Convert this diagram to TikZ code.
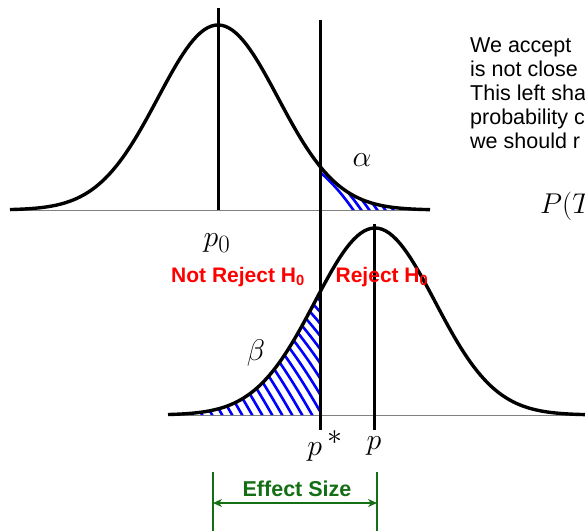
\documentclass[tikz,border=0pt]{standalone}
\usepackage{fontspec}
\setsansfont{Liberation Sans}
\usetikzlibrary{arrows.meta}
\definecolor{effgreen}{RGB}{20,110,20}
\newcommand\mlbl[2][1.2]{\scalebox{#1}{$#2$}}
\begin{document}
\begin{tikzpicture}[x=1pt,y=-1pt,
  curve/.style={line width=3.4pt,line join=round},
  axis/.style={gray,line width=0.8pt},
  bar/.style={line width=3pt},
  hatch/.style={blue,line width=2.6pt},
  region/.style={red,font=\sffamily\bfseries\fontsize{21}{21}\selectfont},
  lbl/.style={font=\fontsize{24.88}{25}\selectfont},
  note/.style={font=\sffamily\fontsize{21.5}{24}\selectfont,anchor=base west,inner sep=0pt}]
\useasboundingbox (0,0) rectangle (585,531);
\clip (0,0) rectangle (585,531);
% axes
\draw[axis] (10,210) -- (430,210);
\draw[axis] (168,415) -- (585,415);
% hatched tails
\begin{scope}
  \clip (320,210) -- plot[domain=320:430,samples=50] (\x,{210-185*exp(-((\x-218)/60)^2/2)}) -- (430,210) -- cycle;
  \foreach \i in {0,...,18} \draw[hatch] (290+\i*8,150) to[bend left=12] +(70,70);
\end{scope}
\begin{scope}
  \clip (168,415) -- plot[domain=168:320,samples=60] (\x,{415-187*exp(-((\x-375)/60)^2/2)}) -- (320,415) -- cycle;
  \foreach \i in {0,...,26} \draw[hatch] (80+\i*10,270) to[bend left=8] +(115,150);
\end{scope}
% curves
\draw[curve] plot[domain=10:430,samples=120] (\x,{210-185*exp(-((\x-218)/60)^2/2)});
\draw[curve] plot[domain=168:600,samples=120] (\x,{415-187*exp(-((\x-375)/60)^2/2)});
% vertical lines
\draw[bar] (218,8) -- (218,210);
\draw[bar] (320,20) -- (320,430);
\draw[bar] (374,224) -- (374,430);
% labels
\node[lbl] (pzero) at (217,243) {\mlbl{p_{\scriptstyle 0}}};
\node[lbl] (alpha) at (362,160) {\mlbl{\alpha}};
\node[lbl] (beta) at (256,353) {\mlbl{\beta}};
\node[lbl] (pstar) at (325,446) {\mlbl{p\,^{\textstyle *}}};
\node[lbl] (pval) at (374,446) {\mlbl{p}};
\node[region] (notrej) at (238,277) {Not Reject H\textsubscript{0}};
\node[region] (rej) at (382,277) {Reject H\textsubscript{0}};
% effect size
\coordinate (esl) at (213,503);
\coordinate (esr) at (377,503);
\draw[effgreen,line width=2.8pt] (213,472) -- (213,531);
\draw[effgreen,line width=2.8pt] (377,472) -- (377,531);
\draw[effgreen,line width=2.2pt,{Stealth[length=9pt,width=8pt]}-{Stealth[length=9pt,width=8pt]}] (esl) -- (esr);
\node[effgreen,font=\sffamily\bfseries\fontsize{21.5}{21.5}\selectfont] (effect) at (297,489) {Effect Size};
% text on the right
\foreach \t [count=\k from 0] in {We accept, is not close, This left sha, probability c, we should r}
  \node[note] (note\k) at (470,{52+24*\k}) {\t};
\node[lbl,anchor=base west,inner sep=0pt] (prob) at (540,213) {\mlbl[1.15]{P\bigl(T}};
\end{tikzpicture}
\end{document}
